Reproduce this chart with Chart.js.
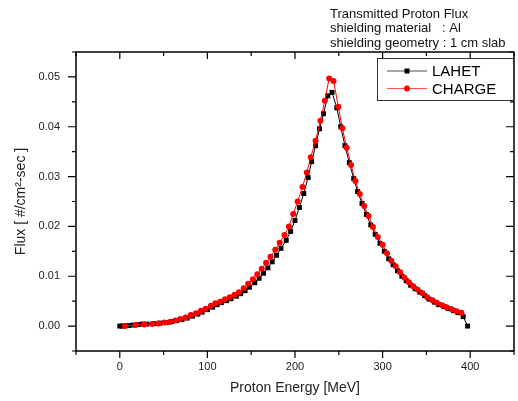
<!DOCTYPE html>
<html>
<head>
<meta charset="utf-8">
<script src="https://cdn.jsdelivr.net/npm/chart.js@4.4.0/dist/chart.umd.min.js"></script>
<style>
  html, body { margin: 0; padding: 0; background: #fff; }
  #wrap { width: 518px; height: 401px; }
</style>
</head>
<body>
<div id="wrap"><canvas id="chart1" width="518" height="401"></canvas></div>
<script>
// LAHET (black squares), energy in MeV and flux in #/cm2-sec
const lahetEnergy = [0, 3, 6, 10, 15, 21, 26, 31, 39, 46,
                     53, 59, 65, 71, 77, 83, 89, 94, 100, 106,
                     111, 116, 122, 127, 133, 138, 143, 148, 154, 159,
                     164, 169, 174, 179, 184, 190, 195, 200, 205, 210,
                     215, 219, 223.5, 228, 232.5, 237.5, 242.3, 247.7, 252.2, 257,
                     262, 267, 271.5, 276.5, 281.5, 286.5, 291.5, 297, 302, 307,
                     312, 317, 322, 327, 332, 337, 342.5, 348, 353, 359,
                     364, 370, 375, 381, 386, 392, 397];
const lahetFlux = [0, 0, 0.0001, 0.0001, 0.0002, 0.0003, 0.0004, 0.0004, 0.0005, 0.0006,
                   0.0007, 0.0009, 0.0011, 0.0013, 0.0016, 0.0020, 0.0024, 0.0028, 0.0033, 0.0038,
                   0.0043, 0.0047, 0.0051, 0.0055, 0.0060, 0.0065, 0.0071, 0.0078, 0.0087, 0.0096,
                   0.0106, 0.0117, 0.0129, 0.0142, 0.0156, 0.0172, 0.0190, 0.0212, 0.0238, 0.0266,
                   0.0298, 0.0330, 0.0362, 0.0396, 0.0426, 0.0462, 0.0469, 0.0438, 0.0400, 0.0362,
                   0.0328, 0.0296, 0.0270, 0.0246, 0.0224, 0.0203, 0.0184, 0.0166, 0.0150, 0.0135,
                   0.0123, 0.0111, 0.0100, 0.0091, 0.0082, 0.0075, 0.0068, 0.0061, 0.0054, 0.0048,
                   0.0043, 0.0039, 0.0035, 0.0031, 0.0027, 0.0019, 0.0000];

// CHARGE (red circles)
const chargeEnergy = [6, 18, 28, 37, 44, 51, 57, 63.5, 69, 75,
                      81, 87, 92.5, 98, 104, 109, 114.5, 120, 125.5, 131,
                      136, 141.5, 146.5, 152, 157, 162, 167, 172, 177.5, 182.5,
                      188, 193, 198, 203, 208.5, 213.5, 218, 223.5, 229, 234,
                      239, 244, 249.5, 254, 259, 264, 269, 274, 279, 284,
                      289, 294.5, 300, 305, 310, 315, 320, 325, 330, 335,
                      340, 345.5, 351, 357, 362, 368, 373, 379, 384.5, 390];
const chargeFlux = [0, 0.0002, 0.0003, 0.0004, 0.0005, 0.0007, 0.0008, 0.0011, 0.0014, 0.0017,
                    0.0022, 0.0026, 0.0031, 0.0035, 0.0041, 0.0046, 0.0049, 0.0054, 0.0058, 0.0063,
                    0.0068, 0.0076, 0.0085, 0.0094, 0.0104, 0.0115, 0.0127, 0.0139, 0.0153, 0.0167,
                    0.0183, 0.0200, 0.0225, 0.0250, 0.0279, 0.0308, 0.0339, 0.0372, 0.0412, 0.0452,
                    0.0497, 0.0492, 0.0440, 0.0397, 0.0358, 0.0323, 0.0291, 0.0265, 0.0241, 0.0221,
                    0.0199, 0.0179, 0.0163, 0.0146, 0.0131, 0.0120, 0.0108, 0.0097, 0.0088, 0.0080,
                    0.0073, 0.0066, 0.0058, 0.0052, 0.0047, 0.0042, 0.0038, 0.0034, 0.0030, 0.0027];

const seriesNames = ['LAHET', 'CHARGE'];
const noteLines = ['Transmitted Proton Flux', 'shielding material   : Al', 'shielding geometry : 1 cm slab'];

const FONT = '"Liberation Sans", Arial, sans-serif';

function toPoints(xs, ys) {
    return xs.map(function(x, i) { return { x: x, y: ys[i] }; });
}

// frame, Origin-style tick marks, legend box and the note text
const originDecor = {
    id: 'originDecor',
    afterDraw: function(chart) {
        const ctx = chart.ctx;
        const a = chart.chartArea;
        const xs = chart.scales.x, ys = chart.scales.y;
        ctx.save();
        ctx.strokeStyle = '#000';
        ctx.lineWidth = 1.5;
        ctx.strokeRect(a.left, a.top, a.right - a.left, a.bottom - a.top);

        ctx.lineWidth = 1.2;
        ctx.beginPath();
        xs.ticks.forEach(function(t) {
            const px = xs.getPixelForValue(t.value);
            const major = Math.round(t.value) % 100 === 0;
            const len = major ? 7 : 4;
            ctx.moveTo(px, a.bottom); ctx.lineTo(px, a.bottom + len);
            ctx.moveTo(px, a.top); ctx.lineTo(px, a.top + len);
        });
        ys.ticks.forEach(function(t) {
            const py = ys.getPixelForValue(t.value);
            const major = Math.round(t.value * 1000) % 10 === 0;
            const len = major ? 8 : 4;
            ctx.moveTo(a.left, py); ctx.lineTo(a.left - len, py);
            ctx.moveTo(a.right, py); ctx.lineTo(a.right - len, py);
        });
        ctx.stroke();

        // legend
        const lx = 377, ly = 58, lw = 136, lh = 42;
        ctx.fillStyle = '#fff';
        ctx.fillRect(lx, ly, lw, lh);
        ctx.strokeStyle = '#333';
        ctx.lineWidth = 1;
        ctx.strokeRect(lx + 0.5, ly + 0.5, lw, lh);
        ctx.font = '15px ' + FONT;
        ctx.textBaseline = 'middle';
        ctx.textAlign = 'left';
        chart.data.datasets.forEach(function(ds, i) {
            const yy = ly + 13 + i * 17.5;
            ctx.strokeStyle = ds.borderColor;
            ctx.lineWidth = 1;
            ctx.globalAlpha = 0.7;
            ctx.beginPath();
            ctx.moveTo(387, yy); ctx.lineTo(427, yy);
            ctx.stroke();
            ctx.globalAlpha = 1;
            ctx.fillStyle = ds.pointBackgroundColor;
            if (ds.pointStyle === 'rect') {
                ctx.fillRect(404.5, yy - 2.5, 5, 5);
            } else {
                ctx.beginPath();
                ctx.arc(407, yy, 3, 0, Math.PI * 2);
                ctx.fill();
            }
            ctx.fillStyle = '#000';
            ctx.fillText(ds.label, 432, yy + 1);
        });

        // note
        ctx.font = '13px ' + FONT;
        ctx.fillStyle = '#111';
        noteLines.forEach(function(s, i) {
            ctx.fillText(s, 330, 14 + i * 14.5);
        });
        ctx.restore();
    }
};

document.addEventListener('DOMContentLoaded', function() {
    const ctx1 = document.getElementById('chart1').getContext('2d');
    new Chart(ctx1, {
        type: 'scatter',
        data: {
            datasets: [{
                label: seriesNames[0],
                data: toPoints(lahetEnergy, lahetFlux),
                showLine: true,
                borderColor: '#000000',
                backgroundColor: '#000000',
                pointBackgroundColor: '#000000',
                pointBorderWidth: 0,
                pointStyle: 'rect',
                pointRadius: 3.5,
                borderWidth: 1,
                order: 1
            }, {
                label: seriesNames[1],
                data: toPoints(chargeEnergy, chargeFlux),
                showLine: true,
                borderColor: '#ff0000',
                backgroundColor: '#ff0000',
                pointBackgroundColor: '#ff0000',
                pointBorderWidth: 0,
                pointStyle: 'circle',
                pointRadius: 3,
                borderWidth: 1,
                order: 0
            }]
        },
        options: {
            responsive: false,
            animation: false,
            layout: { padding: { top: 52, right: 1, left: 0, bottom: 0 } },
            plugins: {
                legend: { display: false },
                tooltip: { enabled: false }
            },
            scales: {
                x: {
                    type: 'linear',
                    min: -50,
                    max: 450,
                    border: { display: false },
                    grid: { display: false, drawTicks: false },
                    ticks: {
                        stepSize: 50,
                        padding: 9,
                        color: '#222',
                        font: { family: FONT, size: 11 },
                        callback: function(v) {
                            return (v >= 0 && Math.round(v) % 100 === 0) ? String(v) : '';
                        }
                    },
                    title: {
                        display: true,
                        text: 'Proton Energy [MeV]',
                        color: '#222',
                        font: { family: FONT, size: 14 },
                        padding: { top: 0, bottom: 4 }
                    },
                    afterFit: function(scale) {
                        scale.height = 50;
                        scale.paddingLeft = 0;
                        scale.paddingRight = 0;
                    }
                },
                y: {
                    type: 'linear',
                    min: -0.005,
                    max: 0.055,
                    border: { display: false },
                    grid: { display: false, drawTicks: false },
                    ticks: {
                        stepSize: 0.005,
                        padding: 16,
                        color: '#222',
                        font: { family: FONT, size: 11 },
                        callback: function(v) {
                            const k = Math.round(v * 1000);
                            return (k >= 0 && k % 10 === 0) ? (k / 1000).toFixed(2) : '';
                        }
                    },
                    title: {
                        display: true,
                        text: 'Flux [ #/cm\u00B2-sec ]',
                        color: '#222',
                        font: { family: FONT, size: 14 },
                        padding: { top: 13, bottom: 0 }
                    },
                    afterFit: function(scale) {
                        scale.width = 76;
                        scale.paddingTop = 0;
                        scale.paddingBottom = 0;
                    }
                }
            }
        },
        plugins: [originDecor]
    });
});
</script>
</body>
</html>
